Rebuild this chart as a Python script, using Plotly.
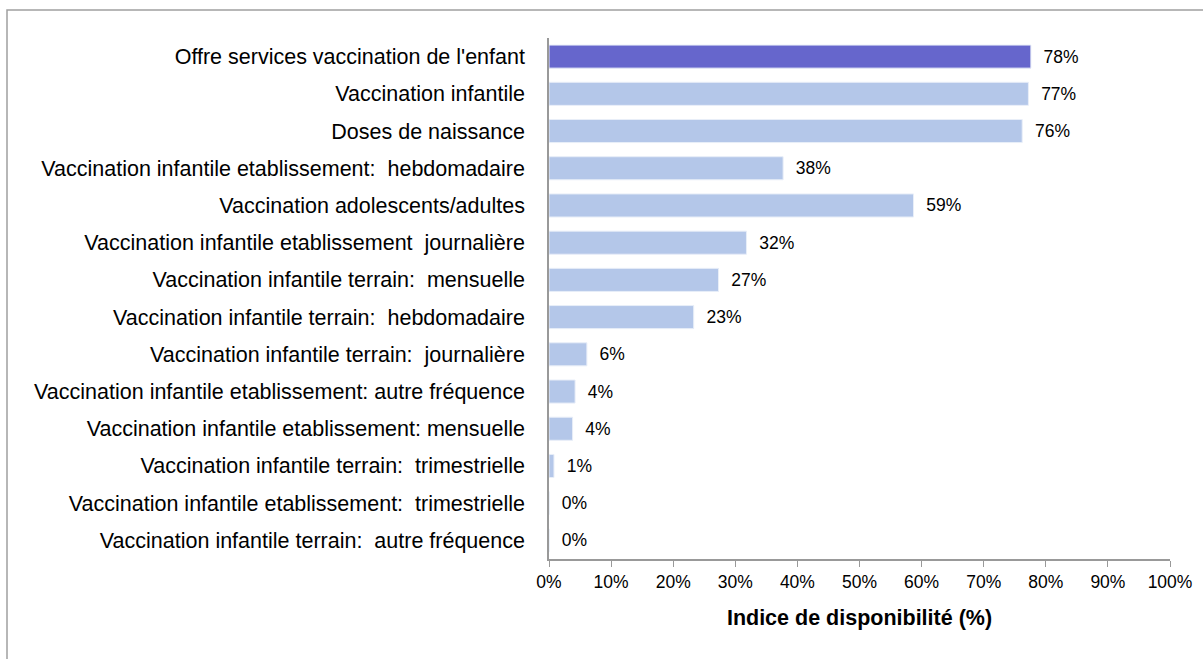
import plotly.graph_objects as go

categories = [
    "Offre services vaccination de l'enfant",
    "Vaccination infantile",
    "Doses de naissance",
    "Vaccination infantile etablissement:  hebdomadaire",
    "Vaccination adolescents/adultes",
    "Vaccination infantile etablissement  journalière",
    "Vaccination infantile terrain:  mensuelle",
    "Vaccination infantile terrain:  hebdomadaire",
    "Vaccination infantile terrain:  journalière",
    "Vaccination infantile etablissement: autre fréquence",
    "Vaccination infantile etablissement: mensuelle",
    "Vaccination infantile terrain:  trimestrielle",
    "Vaccination infantile etablissement:  trimestrielle",
    "Vaccination infantile terrain:  autre fréquence",
]
values = [77.6, 77.2, 76.2, 37.7, 58.7, 31.8, 27.3, 23.3, 6.1, 4.2, 3.8, 0.8, 0, 0]
value_labels = ["78%", "77%", "76%", "38%", "59%", "32%", "27%", "23%", "6%", "4%", "4%", "1%", "0%", "0%"]
tick_vals = [0, 10, 20, 30, 40, 50, 60, 70, 80, 90, 100]
tick_text = ["0%", "10%", "20%", "30%", "40%", "50%", "60%", "70%", "80%", "90%", "100%"]

colors = ["#6666CC"] + ["#B4C7E9"] * (len(categories) - 1)

fig = go.Figure(
    go.Bar(
        x=values,
        y=categories,
        orientation="h",
        marker=dict(color=colors, line=dict(color="#E8EEF8", width=1)),
        width=0.62,
        text=["\u00a0\u00a0" + t for t in value_labels],
        textposition="outside",
        textfont=dict(family="Liberation Sans, Arial, sans-serif", size=17.5, color="#000000"),
        cliponaxis=False,
        hoverinfo="skip",
    )
)

fig.update_layout(
    width=1203,
    height=659,
    margin=dict(l=549, r=33, t=38, b=100),
    paper_bgcolor="white",
    plot_bgcolor="white",
    showlegend=False,
    font=dict(family="Liberation Sans, Arial, sans-serif", color="#000000"),
)

fig.update_xaxes(
    range=[0, 100],
    tickvals=tick_vals,
    ticktext=tick_text,
    tickfont=dict(size=17.5),
    showgrid=False,
    zeroline=False,
    showline=True,
    linecolor="#999999",
    linewidth=1.5,
    ticks="outside",
    ticklen=6,
    tickcolor="#999999",
    title=dict(text="<b>Indice de disponibilité (%)</b>", font=dict(size=21.5), standoff=19),
)

fig.update_yaxes(
    autorange="reversed",
    tickfont=dict(size=21.5),
    showgrid=False,
    zeroline=False,
    showline=True,
    linecolor="#999999",
    linewidth=1.5,
    ticks="",
    ticklabelstandoff=18,
)

fig.add_shape(
    type="rect",
    xref="paper",
    yref="paper",
    x0=(7 - 549) / 621,
    x1=1.2,
    y0=-0.3,
    y1=(559 - 10) / 521,
    line=dict(color="#A0A0A0", width=1.5),
    fillcolor="rgba(0,0,0,0)",
    layer="below",
)

fig.write_html(
    "out.html",
    config={"displayModeBar": False},
    post_script="document.body.style.margin='0';",
)
